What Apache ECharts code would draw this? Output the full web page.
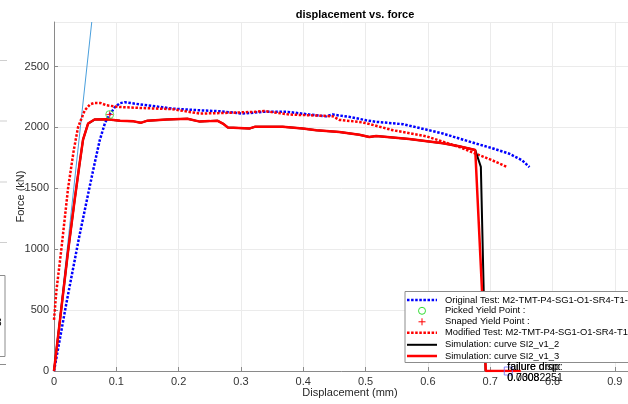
<!DOCTYPE html>
<html><head><meta charset="utf-8">
<script src="https://cdn.jsdelivr.net/npm/echarts@6/dist/echarts.min.js"></script>
<style>html,body{margin:0;padding:0;background:#fff;overflow:hidden}#c{width:628px;height:404px}</style>
</head><body><div id="c"></div>
<script>
// ---- data ----
const xTicks = [0, 0.1, 0.2, 0.3, 0.4, 0.5, 0.6, 0.7, 0.8, 0.9];
const yTicks = [0, 500, 1000, 1500, 2000, 2500];

const elasticDisp = [0, 0.0606];
const elasticForce = [0, 2866];

const origDisp = [0, 0.02, 0.04, 0.055, 0.065, 0.0734, 0.082, 0.0894, 0.0975, 0.1055, 0.1135, 0.1375, 0.19, 0.234, 0.266, 0.303, 0.335, 0.375, 0.41, 0.437, 0.447, 0.474, 0.501, 0.517, 0.56, 0.597, 0.624, 0.677, 0.703, 0.73, 0.751, 0.763];
const origForce = [0, 560, 1090, 1460, 1700, 1895, 2040, 2106, 2165, 2199, 2207, 2190, 2155, 2141, 2133, 2114, 2128, 2128, 2106, 2092, 2106, 2087, 2059, 2046, 2027, 1983, 1950, 1868, 1830, 1786, 1731, 1674];

const modDisp = [0, 0.004, 0.012, 0.0226, 0.0317, 0.0386, 0.0494, 0.058, 0.065, 0.075, 0.084, 0.1055, 0.14, 0.19, 0.234, 0.28, 0.322, 0.337, 0.378, 0.41, 0.447, 0.458, 0.49, 0.501, 0.544, 0.597, 0.65, 0.703, 0.727];
const modForce = [420, 665, 1009, 1501, 1813, 2002, 2141, 2190, 2201, 2200, 2182, 2168, 2160, 2150, 2114, 2120, 2128, 2135, 2106, 2100, 2092, 2062, 2045, 2035, 1977, 1928, 1840, 1731, 1676];

const simV2Disp = [0, 0.011, 0.022, 0.033, 0.041, 0.0466, 0.0547, 0.065, 0.085, 0.106, 0.128, 0.139, 0.15, 0.181, 0.214, 0.234, 0.25, 0.262, 0.271, 0.279, 0.314, 0.322, 0.367, 0.399, 0.421, 0.458, 0.49, 0.506, 0.517, 0.57, 0.624, 0.65, 0.676, 0.685, 0.6925];
const simV2Force = [0, 480, 960, 1400, 1700, 1900, 2032, 2065, 2068, 2055, 2050, 2038, 2056, 2066, 2072, 2048, 2052, 2056, 2032, 2000, 1992, 2005, 2005, 1992, 1977, 1963, 1940, 1922, 1930, 1905, 1870, 1845, 1815, 1676, 0];

const simV3Disp = [0, 0.011, 0.022, 0.033, 0.041, 0.0466, 0.0547, 0.065, 0.085, 0.106, 0.128, 0.139, 0.15, 0.181, 0.214, 0.234, 0.25, 0.262, 0.271, 0.279, 0.314, 0.322, 0.367, 0.399, 0.421, 0.458, 0.49, 0.506, 0.517, 0.57, 0.624, 0.65, 0.676, 0.693, 0.749];
const simV3Force = [0, 480, 960, 1400, 1700, 1900, 2032, 2065, 2068, 2055, 2050, 2038, 2056, 2066, 2072, 2048, 2052, 2056, 2032, 2000, 1992, 2005, 2005, 1992, 1977, 1963, 1940, 1922, 1930, 1905, 1870, 1845, 1815, 0, 0];

const pickedYield = [0.0894, 2106];
const snapedYield = [0.0894, 2106];
const failurePoint = [0.729, 0];
const failureLabels = ['failure disp:', 'failure drop:'];
const failureValues = ['0.00082251', '0.7308'];

const legendNames = [
  'Original Test: M2-TMT-P4-SG1-O1-SR4-T1-N3',
  'Picked Yield Point :',
  'Snaped Yield Point :',
  'Modified Test: M2-TMT-P4-SG1-O1-SR4-T1-N3',
  'Simulation: curve SI2_v1_2',
  'Simulation: curve SI2_v1_3'
];

// ---- build ----
const zip = (a, b) => a.map((v, i) => [v, b[i]]);
const FONT = '"Liberation Sans", Arial, Helvetica, sans-serif';
const dotted = [2.5, 1.6];

const chart = echarts.init(document.getElementById('c'), null, {renderer: 'canvas'});
const option = {
  animation: false,
  backgroundColor: '#fff',
  textStyle: {fontFamily: FONT},
  title: {
    text: 'displacement vs. force', left: 350, top: 4, textAlign: 'center',
    textStyle: {fontSize: 11, fontWeight: 'bold', color: '#000', fontFamily: FONT}
  },
  grid: {left: 54, right: -18, top: 22, bottom: 33, containLabel: false, outerBoundsMode: 'none'},
  xAxis: {
    type: 'value', min: xTicks[0], max: 0.95, interval: xTicks[1] - xTicks[0],
    name: 'Displacement (mm)', nameLocation: 'middle', nameGap: 16, nameMoveOverlap: false,
    nameTextStyle: {fontSize: 11, color: '#262626', fontFamily: FONT},
    axisLine: {show: true, lineStyle: {color: '#8a8a8a', width: 1}},
    axisTick: {show: true, inside: true, length: 4, lineStyle: {color: '#8a8a8a'}},
    axisLabel: {fontSize: 11, color: '#333', margin: 5, showMaxLabel: false,
      formatter: v => String(Math.round(v * 10) / 10)},
    splitLine: {show: true, lineStyle: {color: '#ebebeb', width: 1}}
  },
  yAxis: {
    type: 'value', min: yTicks[0], max: 2866, interval: yTicks[1] - yTicks[0],
    name: 'Force (kN)', nameLocation: 'middle', nameGap: 28, nameMoveOverlap: false,
    nameTextStyle: {fontSize: 11, color: '#262626', fontFamily: FONT},
    axisLine: {show: true, lineStyle: {color: '#8a8a8a', width: 1}},
    axisTick: {show: true, inside: true, length: 4, lineStyle: {color: '#8a8a8a'}},
    axisLabel: {fontSize: 11, color: '#333', margin: 5, showMaxLabel: false,
      formatter: v => String(Math.round(v))},
    splitLine: {show: true, lineStyle: {color: '#ebebeb', width: 1}}
  },
  series: [
    {name: 'elastic', type: 'line', data: zip(elasticDisp, elasticForce), showSymbol: false, symbol: 'none',
     lineStyle: {color: '#4a9fdc', width: 1}, z: 2},
    {name: legendNames[0], type: 'line', data: zip(origDisp, origForce), symbol: 'none', smooth: false,
     lineStyle: {color: '#0000ff', width: 2.5, type: dotted, cap: 'butt'}, z: 3},
    {name: legendNames[1], type: 'scatter', data: [pickedYield], symbol: 'circle', symbolSize: 8,
     itemStyle: {color: 'rgba(0,0,0,0)', borderColor: '#33dd33', borderWidth: 1}, z: 6},
    {name: legendNames[2], type: 'scatter', data: [snapedYield], symbol: 'path://M0,-5V5M-5,0H5', symbolSize: 7,
     itemStyle: {color: 'rgba(0,0,0,0)', borderColor: '#ff0000', borderWidth: 1}, z: 6},
    {name: legendNames[3], type: 'line', data: zip(modDisp, modForce), symbol: 'none',
     lineStyle: {color: '#ff0000', width: 2.5, type: dotted, cap: 'butt'}, z: 3},
    {name: legendNames[4], type: 'line', data: zip(simV2Disp, simV2Force), symbol: 'none',
     lineStyle: {color: '#000000', width: 2}, z: 4},
    {name: legendNames[5], type: 'line', data: zip(simV3Disp, simV3Force), symbol: 'none',
     lineStyle: {color: '#ff0000', width: 2.5}, z: 5},
    {name: 'failure', type: 'scatter', data: [failurePoint], symbol: 'rect', symbolSize: 8,
     itemStyle: {color: 'rgba(0,0,0,0)', borderColor: '#6b6bff', borderWidth: 1}, z: 6}
  ]
};
chart.setOption(option);

// failure annotation texts placed at the failure point
const fp = chart.convertToPixel({gridIndex: 0}, failurePoint);
const annText = [];
failureLabels.forEach(t => annText.push({type: 'text', x: fp[0] - 1, y: fp[1] - 9, z: 120,
  style: {text: t, font: '10.5px ' + FONT, fill: '#000'}}));
failureValues.forEach(t => annText.push({type: 'text', x: fp[0] - 1, y: fp[1] + 2, z: 120,
  style: {text: t, font: '10.5px ' + FONT, fill: '#000'}}));

// legend box (drawn as graphic)
const lx = 405, ly = 291.5, rowY = [300, 310.8, 321.8, 332.8, 344.8, 356];
const leg = [{type: 'rect', shape: {x: lx, y: ly, width: 300, height: 71}, z: 100,
  style: {fill: '#fff', stroke: '#8c8c8c', lineWidth: 1}}];
const sx0 = 407, sx1 = 437, tx = 445;
const lineItem = (y, color, w, dash) => ({type: 'line', z: 101, shape: {x1: sx0, y1: y, x2: sx1, y2: y},
  style: {stroke: color, lineWidth: w, lineDash: dash || null, lineCap: 'butt'}});
leg.push(lineItem(rowY[0], '#0000ff', 2.5, dotted));
leg.push({type: 'circle', z: 101, shape: {cx: 422, cy: rowY[1], r: 3.5}, style: {fill: 'none', stroke: '#33dd33', lineWidth: 1}});
leg.push({type: 'line', z: 101, shape: {x1: 418.5, y1: rowY[2], x2: 425.5, y2: rowY[2]}, style: {stroke: '#ff0000', lineWidth: 1}});
leg.push({type: 'line', z: 101, shape: {x1: 422, y1: rowY[2] - 3.5, x2: 422, y2: rowY[2] + 3.5}, style: {stroke: '#ff0000', lineWidth: 1}});
leg.push(lineItem(rowY[3], '#ff0000', 2.5, dotted));
leg.push(lineItem(rowY[4], '#000000', 2));
leg.push(lineItem(rowY[5], '#ff0000', 2.5));
legendNames.forEach((n, i) => leg.push({type: 'text', z: 101, x: tx, y: rowY[i], 
  style: {text: n, font: '9.4px ' + FONT, fill: '#000', verticalAlign: 'middle', textVerticalAlign: 'middle'}}));

// clipped remnants of a neighbouring panel at the left edge
const edge = [];
[60.5, 121, 182, 242.5].forEach(y => edge.push({type: 'line', shape: {x1: 0, y1: y, x2: 7, y2: y}, style: {stroke: '#cfcfcf', lineWidth: 1}}));
edge.push({type: 'rect', shape: {x: -20, y: 275.5, width: 25, height: 81}, style: {fill: '#fff', stroke: '#8c8c8c', lineWidth: 1}});
edge.push({type: 'text', x: -4, y: 323, style: {text: '3', font: '10px ' + FONT, fill: '#000', verticalAlign: 'middle', textVerticalAlign: 'middle'}});
edge.push({type: 'line', shape: {x1: 0, y1: 364.5, x2: 6, y2: 364.5}, style: {stroke: '#8c8c8c', lineWidth: 1}});

chart.setOption({graphic: {elements: leg.concat(annText, edge)}});
</script>
</body></html>
